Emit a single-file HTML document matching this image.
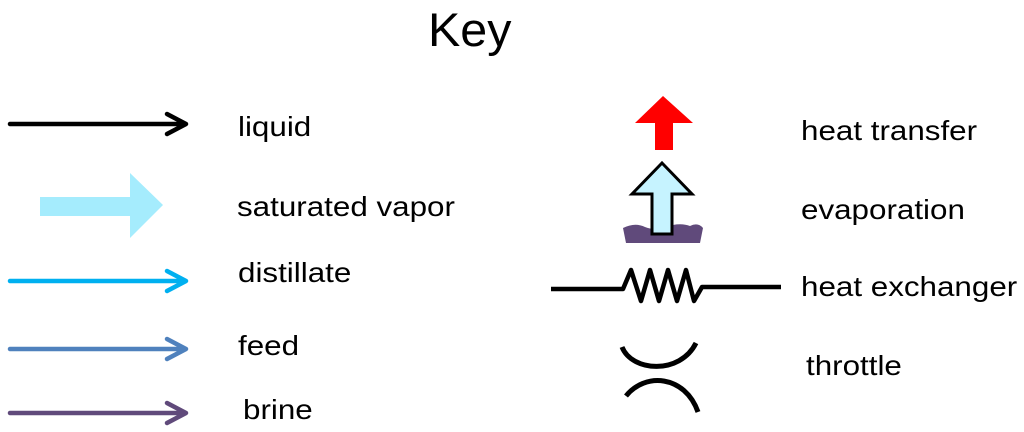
<!DOCTYPE html>
<html><head><style>
body{margin:0;width:1024px;height:432px;background:#fff;overflow:hidden;font-family:"Liberation Sans",sans-serif}
.t{position:absolute;font-size:28px;color:#000;line-height:1;white-space:nowrap;transform:scaleX(1.12);transform-origin:0 0}
</style></head><body>
<div class="t" style="left:428px;top:6px;font-size:47px;transform:scaleX(1.03)">Key</div>
<div class="t" style="left:238px;top:113px">liquid</div>
<div class="t" style="left:237px;top:193px">saturated vapor</div>
<div class="t" style="left:238px;top:259px">distillate</div>
<div class="t" style="left:238px;top:332px">feed</div>
<div class="t" style="left:243px;top:396px">brine</div>
<div class="t" style="left:801px;top:117px">heat transfer</div>
<div class="t" style="left:801px;top:196px">evaporation</div>
<div class="t" style="left:801px;top:273px">heat exchanger</div>
<div class="t" style="left:806px;top:352px">throttle</div>
<svg width="1024" height="432" style="position:absolute;left:0;top:0" fill="none" stroke-linecap="round" stroke-linejoin="round">
<g stroke-width="4.5">
<path d="M10 124H185M167 114L186 124L167 134" stroke="#000"/>
<path d="M10 281H185M167 271L186 281L167 291" stroke="#00b0f0"/>
<path d="M10 349H185M167 339L186 349L167 359" stroke="#4f81bd"/>
<path d="M10 413H185M167 403L186 413L167 423" stroke="#604a7b"/>
</g>
<path d="M40 197H130V173L163 205L130 238V216H40Z" fill="#a5ecfd"/>
<path d="M663 96L693 123H673V150H655V123H635Z" fill="#ff0000"/>
<path d="M623 228Q635 222 645 227Q655 231 665 227Q680 222 690 226Q698 222 703 228L700 243H626Z" fill="#604a7b"/>
<path d="M662 163L692 194H672V234H652V194H632Z" fill="#c6f3ff" stroke="#000" stroke-width="3" stroke-linejoin="miter"/>
<path d="M551 289H623L631 270L641 301L650 270L659 301L668 270L677 301L686 270L694 301L702 287H781" stroke="#000" stroke-width="4.5" stroke-linecap="butt"/>
<path d="M622 347C632 372 680 375 696 343" stroke="#000" stroke-width="5" stroke-linecap="butt"/>
<path d="M626 396C645 372 685 375 698 412" stroke="#000" stroke-width="5" stroke-linecap="butt"/>
</svg>
</body></html>
